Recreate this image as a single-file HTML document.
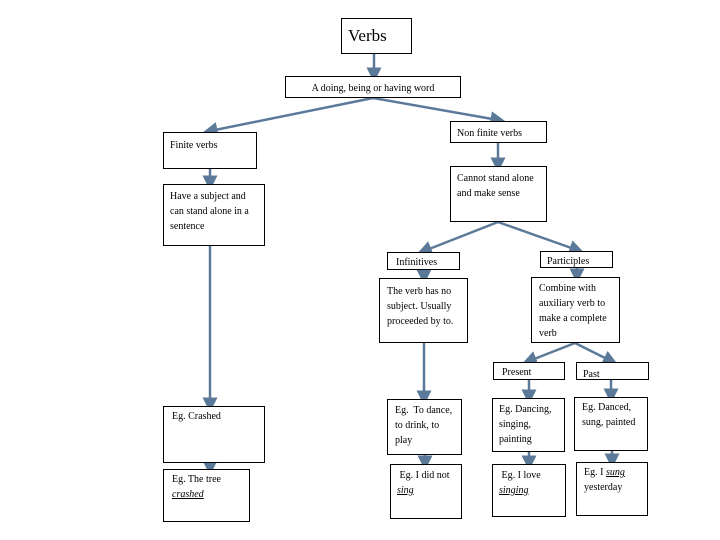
<!DOCTYPE html>
<html><head><meta charset="utf-8"><style>
body{margin:0;width:720px;height:540px;background:#fff;position:relative;overflow:hidden;font-family:"Liberation Serif",serif;color:#000}
.b{position:absolute;border:1px solid #000;background:#fff;box-sizing:border-box;font-size:10px;line-height:15px;padding:3px 6px}
svg{position:absolute;left:0;top:0}
u{font-style:italic}
</style></head><body>
<svg width="720" height="540">
<defs><marker id="a" markerWidth="6" markerHeight="6" refX="3" refY="3" orient="auto"><path d="M0,0L6,3L0,6z" fill="#5b7a99"/></marker></defs>
<g stroke="#5b7a99" stroke-width="2.5" fill="none" marker-end="url(#a)">
<line x1="374" y1="54" x2="374" y2="75"/>
<line x1="373" y1="98" x2="210" y2="131"/>
<line x1="373" y1="98" x2="498" y2="120"/>
<line x1="210" y1="169" x2="210" y2="183"/>
<line x1="498" y1="143" x2="498" y2="165"/>
<line x1="210" y1="246" x2="210" y2="405"/>
<line x1="498" y1="222" x2="424" y2="251"/>
<line x1="498" y1="222" x2="577" y2="250"/>
<line x1="424" y1="270" x2="424" y2="277"/>
<line x1="577" y1="268" x2="577" y2="276"/>
<line x1="424" y1="343" x2="424" y2="398"/>
<line x1="575" y1="343" x2="529" y2="361"/>
<line x1="575" y1="343" x2="611" y2="361"/>
<line x1="529" y1="380" x2="529" y2="397"/>
<line x1="611" y1="380" x2="611" y2="396"/>
<line x1="210" y1="463" x2="210" y2="468"/>
<line x1="425" y1="455" x2="425" y2="463"/>
<line x1="529" y1="452" x2="529" y2="463"/>
<line x1="612" y1="451" x2="612" y2="461"/>
</g></svg>
<div class="b" style="left:341px;top:18px;width:71px;height:36px;font-size:17px;line-height:30px;padding:2px 6px">Verbs</div>
<div class="b" style="left:285px;top:76px;width:176px;height:22px;text-align:center;padding:4px 0;font-size:10px">A doing, being or having word</div>
<div class="b" style="left:163px;top:132px;width:94px;height:37px;padding-top:5px">Finite verbs</div>
<div class="b" style="left:450px;top:121px;width:97px;height:22px;padding-top:4px">Non finite verbs</div>
<div class="b" style="left:450px;top:166px;width:97px;height:56px;padding-top:4px">Cannot stand alone and make sense</div>
<div class="b" style="left:163px;top:184px;width:102px;height:62px;padding-top:4px">Have a subject and can stand alone in a sentence</div>
<div class="b" style="left:387px;top:252px;width:73px;height:18px;padding:2px 8px">Infinitives</div>
<div class="b" style="left:540px;top:251px;width:73px;height:17px;padding:3px 6px;line-height:14px">Participles</div>
<div class="b" style="left:379px;top:278px;width:89px;height:65px;padding:5px 7px">The verb has no subject. Usually proceeded by to.</div>
<div class="b" style="left:531px;top:277px;width:89px;height:66px;padding:3px 7px">Combine with auxiliary verb to make a complete verb</div>
<div class="b" style="left:493px;top:362px;width:72px;height:18px;padding:3px 8px;line-height:13px">Present</div>
<div class="b" style="left:576px;top:362px;width:73px;height:18px;padding:5px 6px;line-height:13px">Past</div>
<div class="b" style="left:163px;top:406px;width:102px;height:57px;padding:2px 8px">Eg. Crashed</div>
<div class="b" style="left:163px;top:469px;width:87px;height:53px;padding:2px 8px">Eg. The tree <u>crashed</u></div>
<div class="b" style="left:387px;top:399px;width:75px;height:56px;padding:3px 7px">Eg.&nbsp; To dance, to drink, to play</div>
<div class="b" style="left:390px;top:464px;width:72px;height:55px;padding:3px 6px">&nbsp;Eg. I did not <u>sing</u></div>
<div class="b" style="left:492px;top:398px;width:73px;height:54px;padding:3px 6px">Eg. Dancing, singing, painting</div>
<div class="b" style="left:492px;top:464px;width:74px;height:53px;padding:3px 6px">&nbsp;Eg. I love <u>singing</u></div>
<div class="b" style="left:574px;top:397px;width:74px;height:54px;padding:2px 7px">Eg. Danced, sung, painted</div>
<div class="b" style="left:576px;top:462px;width:72px;height:54px;padding:2px 7px">Eg. I <u>sung</u> yesterday</div>
</body></html>
